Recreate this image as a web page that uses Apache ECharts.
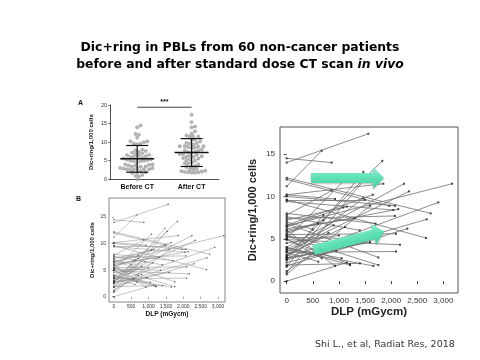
<!DOCTYPE html>
<html><head><meta charset="utf-8">
<script src="https://cdn.jsdelivr.net/npm/echarts@6/dist/echarts.min.js"></script>
<style>html,body{margin:0;padding:0;background:#fff}#c{width:480px;height:360px}</style>
</head><body><div id="c"></div><script>
// ---- data ----
const patientBefore = [14.0,11.2,14.5,3.0,10.2,12.2,9.6,6.5,4.0,3.5,2.7,2.5,1.8,5.5,4.9,3.4,7.4,6.0,10.0,9.4,12.0,2.9,0.8,7.2,2.7,6.8,5.3,3.7,4.9,3.9,1.7,1.0,5.0,7.8,10.2,2.5,6.4,5.6,3.1,5.4,2.7,6.0,5.0,4.0,1.9,3.4,0.0,9.6,7.6,6.2,2.9,5.8,4.5,7.0,3.7,1.2,6.6,8.0,2.2,5.2];
const patientDLP = [1563,670,862,1831,1850,2757,2668,3165,2246,2342,2904,2681,2310,2093,2170,2093,2074,2137,2074,2042,1965,1468,1596,1149,1596,1755,1755,1659,1212,1053,1468,1532,1085,862,925,702,1085,702,1117,797,574,925,670,1212,1404,606,1150,1500,1400,1300,800,600,1000,500,900,700,1650,1700,950,1350];
const patientAfter = [17.4,15.4,14.0,14.2,11.5,8.0,5.1,11.5,11.5,10.6,9.3,7.3,6.2,5.6,4.3,3.5,7.7,8.5,8.9,8.4,8.9,9.8,8.9,8.8,4.6,2.8,1.9,1.8,2.0,2.7,12.9,12.3,11.8,10.7,9.7,7.8,8.7,7.2,6.4,4.2,3.3,1.8,2.7,1.9,2.1,2.3,2.2,9.6,6.0,7.4,5.7,6.8,5.4,6.1,6.6,4.0,10.2,6.8,3.6,5.0];
const groupNames = ['Before CT', 'After CT'];
const groupMeans = [5.5, 7.2];
const groupSD = [3.6, 3.75];
const yTicksA = [0, 5, 10, 15, 20];
const yTicksB = [0, 5, 10, 15];
const xTicksB = [0, 500, 1000, 1500, 2000, 2500, 3000];

// deterministic beeswarm layout for panel A (positions only)
function beeswarm(vals, center, pxPerX, pxPerY, d) {
  const order = vals.map((v, i) => i).sort((a, b) => vals[a] - vals[b]);
  const placed = [];
  const out = [];
  order.forEach(i => {
    const y = vals[i] * pxPerY;
    let off = 0;
    for (let k = 0; k < 60; k++) {
      const cand = (k === 0) ? 0 : ((k % 2 ? 1 : -1) * Math.ceil(k / 2) * d * 0.5);
      const ok = placed.every(p => (p[0] - cand) ** 2 + (p[1] - y) ** 2 >= d * d);
      if (ok) { off = cand; break; }
    }
    placed.push([off, y]);
    out.push([center + off / pxPerX, vals[i]]);
  });
  return out;
}
const gridAW = 108.8, gridAH = 74.3;
const swarmBefore = beeswarm(patientBefore, 0.25, gridAW, gridAH / 20, 3.4);
const swarmAfter = beeswarm(patientAfter, 0.75, gridAW, gridAH / 20, 3.4);

const segs = patientBefore.map((b, i) => ({ coords: [[0, b], [patientDLP[i], patientAfter[i]]] }));
const ends = patientBefore.map(b => [0, b]).concat(patientDLP.map((x, i) => [x, patientAfter[i]]));
const fmt = v => String(v).replace(/\B(?=(\d{3})+(?!\d))/g, ',');

const chart = echarts.init(document.getElementById('c'), null, { renderer: 'canvas' });
const arrowPts = [[0, -5], [62, -5], [62, -11], [73, 0], [62, 11], [62, 5], [0, 5]];
const arrowFill = new echarts.graphic.LinearGradient(0, 0, 0, 1, [
  { offset: 0, color: '#8cefd2' }, { offset: 0.5, color: '#5fdfb6' }, { offset: 1, color: '#45cfa2' }]);
const F = 'Liberation Sans, Arial, sans-serif';

chart.setOption({
  backgroundColor: '#fff',
  animation: false,
  grid: [
    { left: 110, top: 105, width: gridAW, height: gridAH, show: false },
    { left: 109, top: 198, width: 116, height: 104, show: true, borderColor: '#666', borderWidth: 0.8 },
    { left: 280, top: 127, width: 178, height: 166, show: true, borderColor: '#555', borderWidth: 1 }
  ],
  xAxis: [
    { gridIndex: 0, type: 'value', min: 0, max: 1, show: false },
    { gridIndex: 0, type: 'category', data: groupNames, position: 'bottom',
      axisLine: { lineStyle: { color: '#222', width: 0.8 } }, axisTick: { show: false },
      axisLabel: { fontFamily: F, fontWeight: 'bold', fontSize: 7, color: '#111', margin: 4 } },
    { gridIndex: 1, type: 'value', min: -140, max: 3200,
      axisLine: { show: false }, splitLine: { show: false },
      axisTick: { customValues: xTicksB, length: 2, lineStyle: { color: '#555', width: 0.6 } },
      axisLabel: { customValues: xTicksB, formatter: fmt, fontFamily: F, fontSize: 5, color: '#333', margin: 2.5 },
      name: 'DLP (mGycm)', nameLocation: 'middle', nameGap: 7,
      nameTextStyle: { fontFamily: F, fontWeight: 'bold', fontSize: 6.5, color: '#111' } },
    { gridIndex: 2, type: 'value', min: -128, max: 3280,
      axisLine: { show: false }, splitLine: { show: false },
      axisTick: { customValues: xTicksB, length: 3, lineStyle: { color: '#444' } },
      axisLabel: { customValues: xTicksB, formatter: fmt, fontFamily: F, fontSize: 8, color: '#333', margin: 4 },
      name: 'DLP (mGycm)', nameLocation: 'middle', nameGap: 13,
      nameTextStyle: { fontFamily: F, fontWeight: 'bold', fontSize: 11.5, color: '#222' } }
  ],
  yAxis: [
    { gridIndex: 0, type: 'value', min: 0, max: 20, interval: 5,
      axisLine: { show: true, lineStyle: { color: '#222', width: 0.8 } }, splitLine: { show: false },
      axisTick: { show: true, length: 2, lineStyle: { color: '#222', width: 0.6 } },
      axisLabel: { fontFamily: F, fontSize: 5.5, color: '#333', margin: 3 },
      name: 'Dic+ring/1,000 cells', nameLocation: 'middle', nameRotate: 90, nameGap: 16,
      nameTextStyle: { fontFamily: F, fontWeight: 'bold', fontSize: 6, color: '#111' } },
    { gridIndex: 1, type: 'value', min: -1, max: 18.6,
      axisLine: { show: false }, splitLine: { show: false },
      axisTick: { customValues: yTicksB, length: 2, lineStyle: { color: '#555', width: 0.6 } },
      axisLabel: { customValues: yTicksB, fontFamily: F, fontSize: 5, color: '#333', margin: 3 },
      name: 'Dic+ring/1,000 cells', nameLocation: 'middle', nameRotate: 90, nameGap: 14,
      nameTextStyle: { fontFamily: F, fontWeight: 'bold', fontSize: 6, color: '#111' } },
    { gridIndex: 2, type: 'value', min: -1.4, max: 18.2,
      axisLine: { show: false }, splitLine: { show: false },
      axisTick: { customValues: yTicksB, length: 3, lineStyle: { color: '#444' } },
      axisLabel: { customValues: yTicksB, fontFamily: F, fontSize: 8, color: '#333', margin: 5 },
      name: 'Dic+ring/1,000 cells', nameLocation: 'middle', nameRotate: 90, nameGap: 22,
      nameTextStyle: { fontFamily: F, fontWeight: 'bold', fontSize: 11, color: '#222' } }
  ],
  series: [
    { type: 'scatter', xAxisIndex: 0, yAxisIndex: 0, data: swarmBefore.concat(swarmAfter), symbolSize: 3.3,
      itemStyle: { color: '#a8a8a8', borderColor: '#777', borderWidth: 0.4 }, z: 2 },
    { type: 'custom', xAxisIndex: 0, yAxisIndex: 0, z: 3,
      data: groupMeans.map((m, i) => [i === 0 ? 0.25 : 0.75, m, groupSD[i]]),
      renderItem: function (params, api) {
        const cx = api.value(0), m = api.value(1), s = api.value(2);
        const pm = api.coord([cx, m]), pt = api.coord([cx, m + s]), pb = api.coord([cx, m - s]);
        const st = { stroke: '#111', lineWidth: 1.2 };
        return { type: 'group', children: [
          { type: 'line', shape: { x1: pm[0] - 17, y1: pm[1], x2: pm[0] + 17, y2: pm[1] }, style: { stroke: '#111', lineWidth: 1.5 } },
          { type: 'line', shape: { x1: pt[0], y1: pt[1], x2: pb[0], y2: pb[1] }, style: st },
          { type: 'line', shape: { x1: pt[0] - 11, y1: pt[1], x2: pt[0] + 11, y2: pt[1] }, style: st },
          { type: 'line', shape: { x1: pb[0] - 11, y1: pb[1], x2: pb[0] + 11, y2: pb[1] }, style: st }
        ] };
      } },
    { type: 'custom', xAxisIndex: 0, yAxisIndex: 0, z: 3,
      data: [[0.25, 0.75, 19.4]],
      renderItem: function (params, api) {
        const a = api.coord([api.value(0), api.value(2)]), b = api.coord([api.value(1), api.value(2)]);
        return { type: 'group', children: [
          { type: 'line', shape: { x1: a[0], y1: a[1], x2: b[0], y2: b[1] }, style: { stroke: '#111', lineWidth: 0.8 } },
          { type: 'text', x: (a[0] + b[0]) / 2, y: a[1] - 1.5, style: { text: '***', font: 'bold 7px ' + F, fill: '#111', align: 'center', verticalAlign: 'bottom' } }
        ] };
      } },
    { type: 'lines', coordinateSystem: 'cartesian2d', xAxisIndex: 2, yAxisIndex: 1, data: segs,
      lineStyle: { color: '#888', width: 0.5, opacity: 1 }, z: 2 },
    { type: 'scatter', xAxisIndex: 2, yAxisIndex: 1, data: ends, symbol: 'rect', symbolSize: 1.2,
      itemStyle: { color: '#222' }, z: 3 },
    { type: 'lines', coordinateSystem: 'cartesian2d', xAxisIndex: 3, yAxisIndex: 2, data: segs,
      lineStyle: { color: '#6e6e6e', width: 0.8, opacity: 1 }, z: 2 },
    { type: 'scatter', xAxisIndex: 3, yAxisIndex: 2, data: ends, symbol: 'rect', symbolSize: 2,
      itemStyle: { color: '#222' }, z: 3 }
  ],
  graphic: [
    { type: 'text', left: 'center', top: 42, style: { text: 'Dic+ring in PBLs from 60 non-cancer patients', font: 'bold 12.4px "DejaVu Sans"', fill: '#000' } },
    { type: 'text', left: 'center', top: 59, style: { text: '{a|before and after standard dose CT scan }{b|in vivo}',
      rich: { a: { fontFamily: 'DejaVu Sans', fontWeight: 'bold', fontSize: 12.4, fill: '#000', color: '#000' },
              b: { fontFamily: 'DejaVu Sans', fontWeight: 'bold', fontStyle: 'italic', fontSize: 12.4, fill: '#000', color: '#000' } } } },
    { type: 'text', x: 78, y: 100, style: { text: 'A', font: 'bold 7px ' + F, fill: '#111' } },
    { type: 'text', x: 76, y: 196, style: { text: 'B', font: 'bold 7px ' + F, fill: '#111' } },
    { type: 'polygon', x: 311, y: 178, rotation: 0, z: 10, shape: { points: arrowPts },
      style: { fill: arrowFill, shadowBlur: 2, shadowColor: 'rgba(0,0,0,0.25)', shadowOffsetY: 1 } },
    { type: 'polygon', x: 313.5, y: 250, rotation: 14.6 * Math.PI / 180, z: 10, shape: { points: arrowPts },
      style: { fill: arrowFill, shadowBlur: 2, shadowColor: 'rgba(0,0,0,0.25)', shadowOffsetY: 1 } },
    { type: 'text', x: 315, y: 340, style: { text: 'Shi L., et al, Radiat Res, 2018', font: '9.5px "DejaVu Sans"', fill: '#333' } }
  ]
});
</script></body></html>
